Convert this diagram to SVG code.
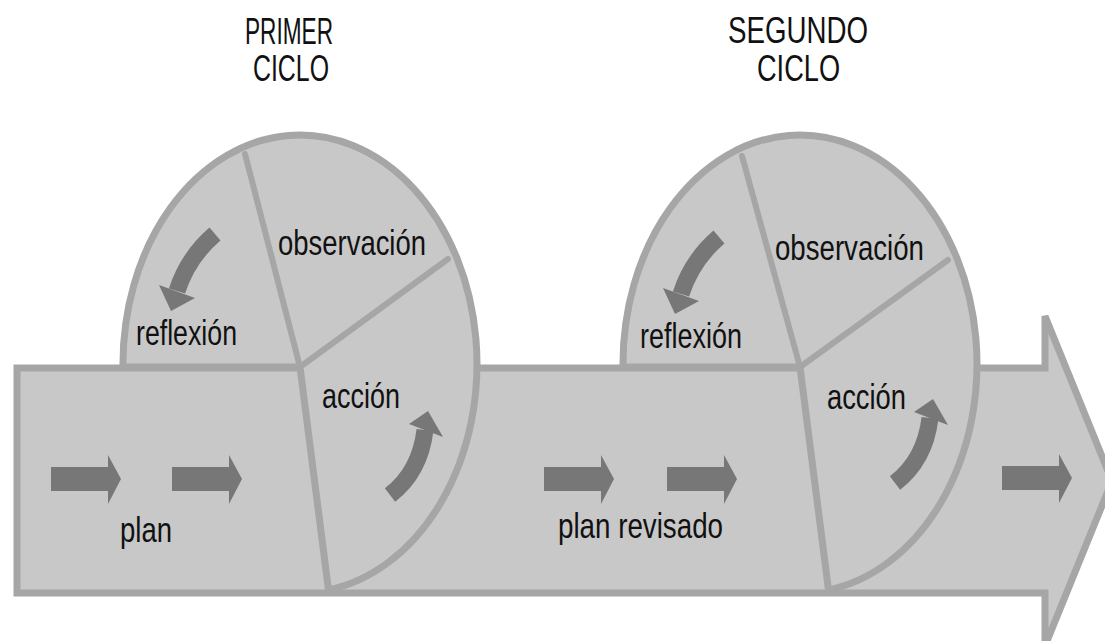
<svg xmlns="http://www.w3.org/2000/svg" width="1105" height="641" viewBox="0 0 1105 641">
<style>
.shape{fill:#c8c8c8;stroke:#a6a6a6;stroke-width:7;stroke-linejoin:round}
.div{stroke:#a6a6a6;stroke-width:6;stroke-linecap:round;fill:none}
.darr{fill:#777777}
.cshaft{fill:none;stroke:#777777;stroke-width:17}
.lbl{font-family:"Liberation Sans",Arial,sans-serif;font-size:35px;fill:#111111}
.ttl{font-family:"Liberation Sans",Arial,sans-serif;font-size:37px;fill:#111111}
</style>
<rect x="0" y="0" width="1105" height="641" fill="#ffffff"/>
<g id="band">
<path class="shape" style="stroke-linejoin:miter" d="M17,368 L1045,368 L1045,316 L1112,481 L1045,646 L1045,593 L17,593 Z"/>
</g>
<g id="cycle1">
<path class="shape" d="M123,367 A177,229 0 1 1 328.5,590 L300,367 Z"/>
<line class="div" x1="300" y1="367" x2="245" y2="154"/>
<line class="div" x1="300" y1="367" x2="448" y2="259"/>
<text class="lbl" x="278" y="255" textLength="148" lengthAdjust="spacingAndGlyphs">observación</text>
<text class="lbl" x="136" y="345" textLength="101" lengthAdjust="spacingAndGlyphs">reflexión</text>
<text class="lbl" x="322" y="408" textLength="78" lengthAdjust="spacingAndGlyphs">acción</text>
<path class="cshaft" d="M215,234 Q188,257 177,291"/>
<polygon class="darr" points="159,285 195,298 171,311"/>
<path class="cshaft" d="M390,495 Q420,472 425,430"/>
<polygon class="darr" points="409,424 428,411 443,437"/>
</g>
<g id="cycle2">
<path class="shape" d="M623,367 A177,229 0 1 1 828.5,590 L800,367 Z"/>
<line class="div" x1="800" y1="367" x2="742" y2="156"/>
<line class="div" x1="800" y1="367" x2="948" y2="260"/>
<text class="lbl" x="775" y="260" textLength="149" lengthAdjust="spacingAndGlyphs">observación</text>
<text class="lbl" x="640" y="348" textLength="102" lengthAdjust="spacingAndGlyphs">reflexión</text>
<text class="lbl" x="827" y="409" textLength="79" lengthAdjust="spacingAndGlyphs">acción</text>
<path class="cshaft" d="M719,237 Q692,260 681,294"/>
<polygon class="darr" points="663,288 699,301 675,314"/>
<path class="cshaft" d="M895,483 Q925,460 930,418"/>
<polygon class="darr" points="914,412 933,399 948,425"/>
</g>
<g id="titles">
<text class="ttl" x="245" y="44" textLength="88" lengthAdjust="spacingAndGlyphs">PRIMER</text>
<text class="ttl" x="253" y="81" textLength="76" lengthAdjust="spacingAndGlyphs">CICLO</text>
<text class="ttl" x="728" y="43" textLength="140" lengthAdjust="spacingAndGlyphs">SEGUNDO</text>
<text class="ttl" x="757" y="81" textLength="83" lengthAdjust="spacingAndGlyphs">CICLO</text>
</g>
<g id="plan-labels">
<text class="lbl" x="120" y="542" textLength="52" lengthAdjust="spacingAndGlyphs">plan</text>
<text class="lbl" x="558" y="538" textLength="165" lengthAdjust="spacingAndGlyphs">plan revisado</text>
</g>
<g id="connectors">
<polygon class="darr" points="51,467 108,467 108,455 121,479 108,504 108,491 51,491"/>
<polygon class="darr" points="172,467 229,467 229,455 242,479 229,504 229,491 172,491"/>
<polygon class="darr" points="544,467 601,467 601,455 614,479 601,504 601,491 544,491"/>
<polygon class="darr" points="667,467 724,467 724,455 737,479 724,504 724,491 667,491"/>
<polygon class="darr" points="1002,466 1059,466 1059,454 1072,478 1059,503 1059,490 1002,490"/>
</g>
</svg>
